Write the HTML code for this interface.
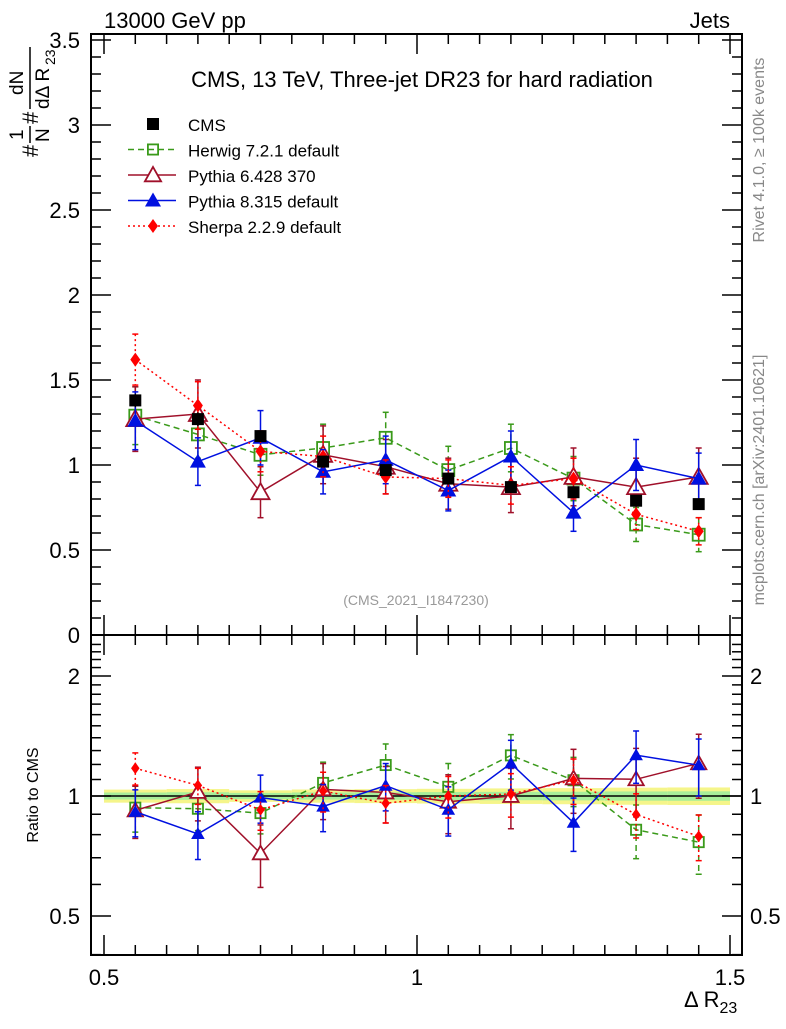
<!DOCTYPE html>
<html><head><meta charset="utf-8"><style>
body{margin:0;background:#fff;width:786px;height:1024px;overflow:hidden}
svg{font-family:"Liberation Sans",sans-serif}
</style></head><body>
<svg id="c" width="786" height="1024"></svg>
<script>
const bins=[0.55,0.65,0.75,0.85,0.95,1.05,1.15,1.25,1.35,1.45];
const cms=[1.38,1.27,1.17,1.02,0.97,0.92,0.87,0.84,0.79,0.77];
const cmsErr=[0.04,0.04,0.03,0.03,0.03,0.03,0.03,0.03,0.03,0.03];
const herwig=[1.29,1.18,1.06,1.10,1.16,0.97,1.10,0.92,0.65,0.59];
const herwigErr=[0.17,0.14,0.12,0.14,0.15,0.14,0.14,0.13,0.10,0.10];
const py6=[1.27,1.30,0.84,1.06,0.99,0.89,0.87,0.93,0.87,0.93];
const py6Err=[0.19,0.20,0.15,0.17,0.16,0.15,0.15,0.17,0.17,0.17];
const py8=[1.26,1.02,1.16,0.96,1.03,0.85,1.05,0.72,1.00,0.92];
const py8Err=[0.17,0.14,0.16,0.13,0.14,0.12,0.15,0.11,0.15,0.15];
const sherpa=[1.62,1.35,1.08,1.05,0.93,0.92,0.88,0.92,0.71,0.61];
const sherpaErr=[0.15,0.14,0.12,0.12,0.10,0.11,0.11,0.12,0.09,0.08];
const mainTicks=["0","0.5","1","1.5","2","2.5","3","3.5"];
const ratioTicks=[0.5,1,2];
const xTicks=[0.5,1,1.5];

const svg=document.getElementById('c');
const NS='http://www.w3.org/2000/svg';
const X=v=>104+(v-0.5)*626;
const Ym=v=>635-v*170;
const Yr=r=>796-Math.log2(r)*120;
const L=91,R=742,T=34,M=635,B=955;
function el(t,a,p){const e=document.createElementNS(NS,t);for(const k in a)e.setAttribute(k,a[k]);(p||svg).appendChild(e);return e;}
function txt(s,x,y,a,p){const e=el('text',Object.assign({x:x,y:y},a),p);e.textContent=s;return e;}

// band
const band=el('g',{});


bins.forEach((b,i)=>{
  const r=cmsErr[i]/cms[i];
  el('rect',{x:X(b-0.05),y:Yr(1+r*1.3),width:X(b+0.05)-X(b-0.05),height:Yr(1-r*1.3)-Yr(1+r*1.3),fill:'#f5f58a'},band);
  el('rect',{x:X(b-0.05),y:Yr(1+r*0.7),width:X(b+0.05)-X(b-0.05),height:Yr(1-r*0.7)-Yr(1+r*0.7),fill:'#a8ee9a'},band);
});
el('line',{x1:L,x2:R,y1:Yr(1),y2:Yr(1),stroke:'#000','stroke-width':1.5});

// frames
const fr=el('g',{fill:'none',stroke:'#000','stroke-width':2});


el('rect',{x:L,y:T,width:R-L,height:M-T},fr);
el('rect',{x:L,y:M,width:R-L,height:B-M},fr);

// x ticks
const tk=el('g',{stroke:'#000','stroke-width':1.5});
for(let v=0.5;v<=1.5001;v+=0.05){
  const x=X(v);const maj=Math.abs(v*2-Math.round(v*2))<1e-6;const l=maj?20:10;
  [[T,1],[M,-1],[M,1],[B,-1]].forEach(([y,d])=>el('line',{x1:x,x2:x,y1:y,y2:y+d*l},tk));
}
xTicks.forEach(v=>{const t=txt(String(v),X(v),985,{'font-size':22,'text-anchor':'middle'});
});
// main y ticks
for(let v=0;v<=3.5001;v+=0.1){
  const y=Ym(v);const maj=Math.abs(v*2-Math.round(v*2))<1e-6;const l=maj?20:10;
  el('line',{x1:L,x2:L+l,y1:y,y2:y},tk);el('line',{x1:R,x2:R-l,y1:y,y2:y},tk);
}
mainTicks.forEach((s,i)=>{const t=txt(s,80,Ym(i*0.5)+8,{'font-size':22,'text-anchor':'end'});
});
// ratio y ticks
[0.4,0.5,0.6,0.7,0.8,0.9,1,1.1,1.2,1.3,1.4,1.5,1.6,1.7,1.8,1.9,2,2.1,2.2,2.3,2.4].forEach(v=>{
  const y=Yr(v);const maj=ratioTicks.includes(v);const l=maj?20:10;
  el('line',{x1:L,x2:L+l,y1:y,y2:y},tk);el('line',{x1:R,x2:R-l,y1:y,y2:y},tk);
});
ratioTicks.forEach(v=>{
  const a=txt(String(v),80,Yr(v)+8,{'font-size':22,'text-anchor':'end'});
  
  const b=txt(String(v),750,Yr(v)+8,{'font-size':22});
  
});

// series
const series=[
 {n:'herwig',v:herwig,e:herwigErr,c:'#3a9a1a',dash:'6,4',m:'osq'},
 {n:'pythia6',v:py6,e:py6Err,c:'#a0102a',dash:'',m:'otri'},
 {n:'pythia8',v:py8,e:py8Err,c:'#0010e0',dash:'',m:'tri'},
 {n:'sherpa',v:sherpa,e:sherpaErr,c:'#ff0000',dash:'2,3',m:'dia'}
];
function marker(m,x,y,c,g,s){
  s=s||1;
  if(m==='osq')el('rect',{x:x-6*s,y:y-6*s,width:12*s,height:12*s,fill:'none',stroke:c,'stroke-width':1.8},g);
  if(m==='otri')el('polygon',{points:`${x},${y-9*s} ${x-9*s},${y+7*s} ${x+9*s},${y+7*s}`,fill:'#fff',stroke:c,'stroke-width':1.8},g);
  if(m==='tri')el('polygon',{points:`${x},${y-8*s} ${x-8*s},${y+6*s} ${x+8*s},${y+6*s}`,fill:c},g);
  if(m==='dia')el('polygon',{points:`${x},${y-7*s} ${x-5*s},${y} ${x},${y+7*s} ${x+5*s},${y}`,fill:c},g);
  if(m==='sq')el('rect',{x:x-6,y:y-6,width:12,height:12,fill:c},g);
}
series.forEach(s=>{
  [['main',Ym,i=>s.v[i],i=>s.e[i]],['ratio',Yr,i=>s.v[i]/cms[i],i=>s.e[i]/cms[i]]].forEach(([p,Y,fv,fe])=>{
    const g=el('g',{});
    
    
    const pts=bins.map((b,i)=>X(b)+','+Y(fv(i))).join(' ');
    el('polyline',{points:pts,fill:'none',stroke:s.c,'stroke-width':1.5,'stroke-dasharray':s.dash},g);
    bins.forEach((b,i)=>{
      const x=X(b),v=fv(i),e=fe(i);
      el('line',{x1:x,x2:x,y1:Y(v+e),y2:Y(Math.max(v-e,0.01)),stroke:s.c,'stroke-width':1.5,'stroke-dasharray':s.dash},g);
      [v+e,Math.max(v-e,0.01)].forEach(yy=>el('line',{x1:x-3,x2:x+3,y1:Y(yy),y2:Y(yy),stroke:s.c,'stroke-width':1.5},g));
      marker(s.m,x,Y(v),s.c,g,p==='ratio'?0.85:1);
    });
  });
});
// CMS data
const cg=el('g',{});


bins.forEach((b,i)=>{
  el('line',{x1:X(b),x2:X(b),y1:Ym(cms[i]+cmsErr[i]),y2:Ym(cms[i]-cmsErr[i]),stroke:'#000','stroke-width':1.5},cg);
  marker('sq',X(b),Ym(cms[i]),'#000',cg);
});

// texts
function T2(s,x,y,a,name){const t=txt(s,x,y,a);return t;}
T2('13000 GeV pp',104,28,{'font-size':22},'beam-label');
T2('Jets',730,28,{'font-size':22,'text-anchor':'end'},'process-label');
T2('CMS, 13 TeV, Three-jet DR23 for hard radiation',422,87,{'font-size':22,'text-anchor':'middle'},'plot-title');
T2('(CMS_2021_I1847230)',416,605,{'font-size':14,'text-anchor':'middle',fill:'#999'},'analysis-id');
T2('Ratio to CMS',38,795,{'font-size':16,'text-anchor':'middle',transform:'rotate(-90 38 795)'},'ratio-y-axis-title');
const xt=T2('Δ R',684,1007,{'font-size':22},'x-axis-title');
const sb=el('tspan',{'font-size':16,dy:6},xt);sb.textContent='23';
T2('Rivet 4.1.0, ≥ 100k events',764,150,{'font-size':16,'text-anchor':'middle',fill:'#888',transform:'rotate(-90 764 150)'},'rivet-label');
T2('mcplots.cern.ch [arXiv:2401.10621]',764,480,{'font-size':16,'text-anchor':'middle',fill:'#888',transform:'rotate(-90 764 480)'},'mcplots-label');
// y title (local x -> screen up, local y -> screen x)
const yg=el('g',{transform:'translate(0,157) rotate(-90)'});


txt('#',0,38,{'font-size':22},yg);
txt('1',17,23,{'font-size':19},yg);
txt('N',15,49,{'font-size':19},yg);
el('line',{x1:14,x2:31,y1:30,y2:30,stroke:'#000','stroke-width':1.5},yg);
txt('#',33,38,{'font-size':22},yg);
txt('dN',62,23,{'font-size':19},yg);
txt('dΔ R',48,49,{'font-size':19},yg);
txt('23',92,55,{'font-size':14},yg);
el('line',{x1:48,x2:110,y1:30,y2:30,stroke:'#000','stroke-width':1.5},yg);

// legend
const lg=el('g',{});


const leg=[['CMS','sq','#000',''],['Herwig 7.2.1 default','osq','#3a9a1a','6,4'],['Pythia 6.428 370','otri','#a0102a',''],['Pythia 8.315 default','tri','#0010e0',''],['Sherpa 2.2.9 default','dia','#ff0000','2,3']];
leg.forEach((l,i)=>{
  const y=124+i*25.5;
  const g=el('g',{},lg);
  
  
  if(i>0)el('line',{x1:128,x2:176,y1:y,y2:y,stroke:l[2],'stroke-width':1.5,'stroke-dasharray':l[3]},g);
  marker(l[1],153,y,l[2],g,i===1?0.85:(i===2?0.9:1));
  txt(l[0],188,y+7,{'font-size':17},g);
});
</script>
</body></html>
